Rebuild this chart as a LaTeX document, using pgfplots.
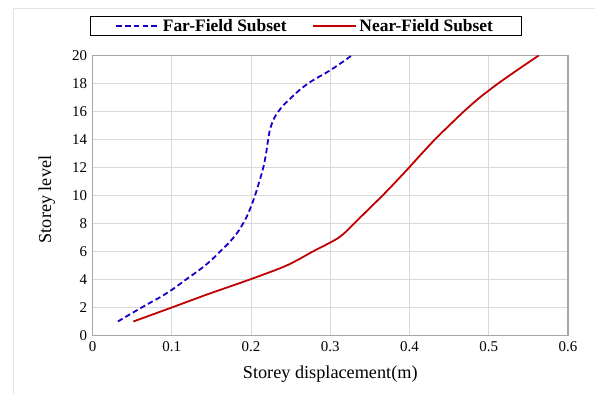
\documentclass[border=0pt]{standalone}
\usepackage{fontspec}
\setmainfont{Liberation Serif}
\usepackage{pgfplots}
\pgfplotsset{compat=1.18}
\definecolor{farblue}{RGB}{20,0,200}
\definecolor{nearred}{RGB}{192,0,0}
\definecolor{gridgray}{RGB}{217,217,217}
\definecolor{framegray}{RGB}{166,166,166}
\begin{document}
\begin{tikzpicture}[x=1bp,y=1bp]
\useasboundingbox (0,0) rectangle (595,394);
\draw[gridgray!70, line width=0.8bp] (13,0) -- (13,386) -- (595,386);
\begin{axis}[
  at={(92.5bp,58.5bp)}, anchor=south west,
  scale only axis, width=475.5bp, height=280bp,
  xmin=0, xmax=0.6, ymin=0, ymax=20,
  xtick={0,0.1,...,0.6}, ytick={0,2,...,20},
  xticklabels={0,0.1,0.2,0.3,0.4,0.5,0.6},
  yticklabels={0,2,4,6,8,10,12,14,16,18,20},
  major tick length=0pt,
  grid=major, grid style={gridgray, line width=0.9bp},
  axis line style={framegray, line width=1.1bp},
  tick label style={font=\fontsize{15}{17}\selectfont, text=black},
  xticklabel style={yshift=-3bp},
  yticklabel style={xshift=-2bp},
  xlabel={Storey displacement(m)}, ylabel={Storey level},
  label style={font=\fontsize{18.3}{20}\selectfont},
  xlabel style={at={(axis description cs:0.5,-0.139)}, anchor=center},
  ylabel style={at={(axis description cs:-0.0963,0.486)}, anchor=center},
  legend columns=2,
  legend style={at={(0.448,1.141)}, anchor=north, draw=black, line width=0.8bp,
    font=\bfseries\fontsize{17.5}{19}\selectfont, inner xsep=25.5bp, inner ysep=0.5bp,
    nodes={inner xsep=2.5bp, inner ysep=2bp},
    /tikz/every even column/.append style={column sep=23bp}},
  legend image code/.code={\draw[#1, line width=1.8bp] (0bp,0bp) -- (43bp,0bp);},
]
\addplot[farblue, line width=1.8bp, dash pattern=on 5.5bp off 3.2bp, smooth, tension=0.75] coordinates {
(0.032,1) (0.062,2) (0.093,3) (0.118,4) (0.142,5) (0.161,6) (0.178,7) (0.190,8) (0.1985,9) (0.205,10)
(0.2105,11) (0.2155,12) (0.219,13) (0.2217,14) (0.2255,15) (0.2345,16) (0.251,17) (0.272,18) (0.3015,19) (0.327,20)};
\addlegendentry{Far-Field Subset}
\addplot[nearred, line width=1.8bp, smooth, tension=0.5] coordinates {
(0.0515,1) (0.1,2) (0.148,3) (0.1985,4) (0.245,5) (0.278,6) (0.311,7) (0.330,8) (0.348,9) (0.366,10)
(0.383,11) (0.3995,12) (0.4155,13) (0.432,14) (0.45,15) (0.4685,16) (0.4887,17) (0.5118,18) (0.537,19) (0.563,20)};
\addlegendentry{Near-Field Subset}
\end{axis}
\end{tikzpicture}
\end{document}
